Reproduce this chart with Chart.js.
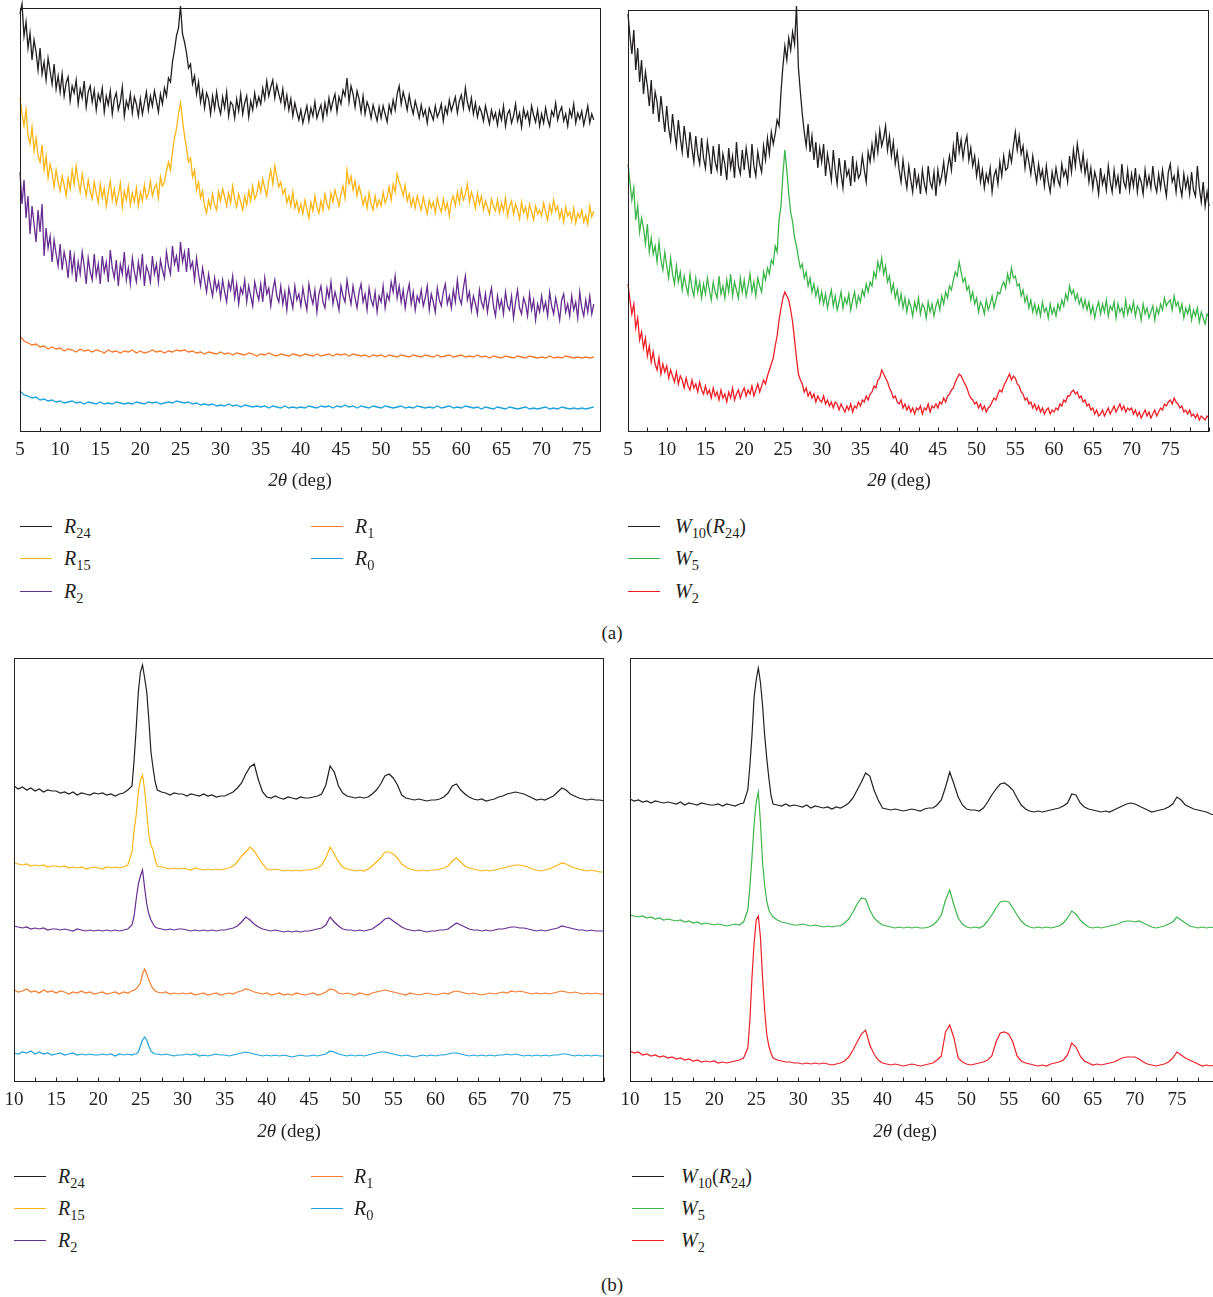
<!DOCTYPE html>
<html lang="en">
<head>
<meta charset="UTF-8">
<title>XRD patterns (a) and (b)</title>
<script src="https://cdn.jsdelivr.net/npm/chart.js"></script>
<style>
  html, body { margin: 0; padding: 0; background: #fff; overflow: hidden; }
  body { width: 1213px; height: 1297px; position: relative; font-family: "Liberation Serif", "DejaVu Serif", serif; color: #231f20; }
  canvas { position: absolute; }
  .axis-title { position: absolute; font-size: 19px; line-height: 20px; transform: translateX(-50%); white-space: nowrap; }
  .swatch { position: absolute; width: 32px; height: 0; border-top: 1.5px solid; }
  .leg-label { position: absolute; font-size: 20px; line-height: 20px; white-space: nowrap; }
  .leg-label sub { font-size: 0.72em; vertical-align: -0.35em; line-height: 0; }
  .caption { position: absolute; font-size: 19px; line-height: 20px; transform: translateX(-50%); }
</style>
</head>
<body>
<canvas id="chartAL" width="601" height="474" style="left:10px;top:-2px"></canvas>
<canvas id="chartAR" width="601" height="472" style="left:618px;top:0px"></canvas>
<canvas id="chartBL" width="610" height="474" style="left:4px;top:648px"></canvas>
<canvas id="chartBR" width="609" height="474" style="left:620px;top:648px"></canvas>
<div id="overlay"></div>
<script>
// ---- data (a): noisy scans read every 0.25 deg, flat ones every 0.5 deg ----
const aStart = 5;
const aFineStep = 0.25;
const aCoarseStep = 0.5;

// left panel, 5 .. 76.5 deg
const r24a = [
  418, 428, 396, 410, 384, 399, 372, 392, 380, 362, 384, 358, 370, 352, 374, 361, 348, 368, 343, 356,
  340, 358, 336, 349, 355, 331, 346, 339, 352, 328, 343, 334, 351, 325, 340, 346, 330, 342, 322, 338,
  331, 344, 320, 336, 327, 341, 318, 333, 339, 322, 330, 345, 316, 331, 324, 338, 319, 335, 328, 316,
  333, 318, 329, 340, 322, 336, 326, 341, 331, 320, 338, 328, 344, 336, 354, 350, 370, 382, 396, 404,
  426, 398, 390, 379, 364, 368, 348, 356, 338, 350, 330, 341, 324, 339, 333, 318, 336, 323, 340, 326,
  318, 335, 324, 340, 316, 330, 327, 314, 333, 321, 338, 318, 329, 336, 315, 331, 322, 339, 326, 335,
  328, 344, 333, 351, 336, 345, 352, 334, 347, 338, 330, 343, 325, 337, 322, 333, 316, 329, 320, 312,
  322, 309, 318, 326, 311, 324, 316, 330, 314, 321, 327, 313, 329, 318, 334, 322, 331, 338, 320, 335,
  328, 342, 336, 354, 330, 346, 338, 325, 341, 333, 320, 336, 318, 330, 324, 314, 327, 319, 311, 325,
  314, 326, 318, 310, 327, 319, 332, 322, 338, 346, 328, 340, 332, 322, 337, 326, 318, 331, 323, 314,
  327, 316, 322, 309, 324, 318, 312, 326, 315, 320, 328, 311, 325, 318, 332, 321, 328, 335, 319, 331,
  337, 324, 344, 330, 322, 334, 318, 329, 315, 325, 320, 311, 326, 317, 308, 322, 313, 319, 307, 321,
  312, 326, 306, 318, 322, 309, 316, 328, 311, 319, 305, 323, 314, 320, 308, 326, 317, 310, 322, 306,
  318, 309, 324, 313, 306, 321, 316, 329, 312, 320, 325, 311, 318, 306, 322, 315, 328, 309, 319, 313,
  321, 307, 316, 326, 309, 318, 312
];
const r15a = [
  334, 318, 306, 322, 296, 288, 305, 281, 294, 276, 270, 287, 262, 276, 254, 268, 259, 245, 262, 250,
  241, 256, 247, 236, 254, 243, 262, 248, 266, 251, 240, 258, 246, 236, 252, 241, 233, 250, 239, 229,
  248, 234, 244, 226, 240, 251, 232, 243, 228, 237, 249, 225, 241, 232, 246, 227, 239, 230, 244, 226,
  240, 231, 247, 234, 238, 251, 236, 244, 248, 234, 255, 246, 250, 261, 270, 262, 280, 294, 303, 318,
  329, 312, 296, 284, 270, 274, 255, 262, 242, 250, 234, 241, 226, 219, 232, 224, 238, 227, 222, 240,
  231, 243, 235, 226, 239, 229, 246, 233, 225, 238, 230, 222, 236, 227, 241, 231, 246, 233, 238, 250,
  240, 253, 244, 236, 252, 262, 248, 266, 255, 245, 250, 238, 243, 229, 236, 226, 240, 224, 231, 220,
  228, 218, 232, 223, 214, 230, 221, 236, 225, 219, 231, 222, 238, 228, 223, 239, 230, 242, 234, 226,
  238, 246, 234, 262, 248, 256, 242, 251, 236, 246, 238, 227, 235, 224, 239, 228, 222, 236, 225, 232,
  226, 240, 229, 235, 245, 232, 248, 240, 258, 250, 244, 236, 247, 231, 238, 226, 234, 224, 236, 228,
  222, 235, 226, 218, 232, 224, 230, 219, 234, 225, 220, 233, 222, 229, 216, 231, 236, 226, 240, 229,
  243, 232, 238, 248, 230, 240, 233, 224, 239, 228, 236, 222, 231, 225, 218, 233, 226, 221, 232, 219,
  229, 221, 234, 216, 226, 231, 218, 228, 222, 213, 230, 219, 225, 214, 228, 220, 212, 226, 218, 222,
  216, 229, 220, 212, 227, 219, 232, 221, 226, 214, 222, 210, 225, 216, 220, 211, 224, 209, 219, 214,
  222, 210, 217, 208, 226, 215, 221
];
const r2a = [
  260, 228, 252, 214, 236, 198, 226, 208, 190, 222, 200, 228, 176, 204, 184, 196, 170, 192, 178, 166,
  188, 162, 180, 170, 154, 182, 160, 176, 150, 170, 158, 180, 166, 148, 174, 160, 152, 178, 156, 168,
  148, 176, 160, 170, 150, 182, 164, 154, 172, 146, 168, 158, 180, 152, 164, 148, 174, 160, 150, 170,
  156, 178, 146, 166, 160, 150, 176, 158, 168, 150, 172, 162, 154, 180, 166, 158, 186, 168, 176, 160,
  190, 170, 180, 160, 184, 164, 170, 152, 174, 158, 146, 164, 152, 140, 158, 146, 136, 154, 142, 150,
  134, 152, 140, 130, 150, 142, 156, 134, 148, 128, 144, 138, 152, 130, 146, 136, 126, 150, 140, 132,
  148, 130, 154, 138, 144, 126, 142, 152, 136, 130, 146, 128, 140, 122, 144, 134, 124, 146, 132, 138,
  126, 144, 132, 122, 148, 136, 128, 142, 120, 138, 146, 130, 124, 144, 134, 150, 128, 140, 132, 122,
  146, 136, 130, 152, 138, 128, 146, 134, 124, 140, 148, 130, 138, 122, 144, 132, 126, 140, 120, 136,
  130, 146, 124, 138, 132, 150, 140, 156, 134, 146, 130, 142, 124, 138, 148, 128, 140, 122, 136, 130,
  142, 126, 134, 146, 122, 138, 130, 120, 144, 132, 126, 140, 148, 128, 136, 124, 142, 130, 152, 134,
  128, 144, 156, 132, 140, 122, 136, 128, 118, 142, 130, 124, 138, 120, 134, 144, 126, 116, 136, 124,
  132, 118, 140, 126, 122, 136, 114, 130, 142, 124, 118, 134, 128, 116, 138, 122, 132, 112, 128, 120,
  136, 122, 130, 116, 140, 126, 118, 134, 124, 112, 132, 138, 120, 128, 116, 136, 122, 130, 114, 140,
  124, 116, 132, 120, 136, 118, 128
];
const r1a = [
  96, 91, 89, 87, 88, 85, 86, 83, 85, 83,
  84, 81, 83, 82, 80, 83, 81, 82, 80, 82,
  81, 79, 82, 80, 81, 79, 81, 80, 82, 79,
  81, 79, 80, 82, 80, 81, 79, 81, 80, 82,
  81, 82, 80, 81, 79, 80, 78, 80, 79, 78,
  80, 78, 79, 77, 79, 78, 77, 79, 78, 76,
  78, 77, 79, 77, 76, 78, 77, 76, 78, 77,
  76, 78, 77, 76, 78, 76, 77, 78, 76, 78,
  77, 78, 76, 78, 77, 76, 77, 75, 77, 76,
  77, 75, 77, 76, 75, 77, 76, 75, 77, 76,
  75, 77, 76, 75, 77, 75, 76, 77, 75, 76,
  77, 75, 76, 75, 77, 75, 76, 74, 76, 75,
  74, 76, 75, 74, 76, 75, 74, 76, 75, 74,
  75, 74, 76, 74, 75, 74, 76, 75, 74, 75,
  74, 75, 74, 75
];
const r0a = [
  41, 37, 36, 34, 35, 32, 33, 31, 32, 30,
  31, 29, 30, 31, 29, 30, 28, 30, 29, 28,
  30, 28, 29, 28, 30, 29, 28, 29, 28, 30,
  29, 28, 30, 29, 30, 28, 29, 30, 29, 31,
  30, 29, 30, 28, 29, 27, 28, 27, 28, 26,
  27, 26, 28, 26, 27, 25, 27, 26, 25, 26,
  25, 26, 24, 26, 25, 24, 26, 24, 25, 24,
  25, 24, 26, 25, 24, 26, 25, 26, 24, 26,
  25, 27, 25, 26, 24, 26, 25, 24, 26, 25,
  24, 26, 25, 24, 25, 26, 24, 25, 24, 26,
  25, 24, 25, 24, 26, 24, 25, 26, 24, 25,
  24, 26, 25, 24, 25, 23, 25, 24, 23, 25,
  24, 23, 25, 24, 23, 24, 25, 23, 24, 23,
  24, 25, 23, 24, 23, 25, 24, 23, 24, 23,
  24, 23, 24, 25
];

// right panel, 5 .. 80 deg
const w10a = [
  418, 396, 378, 402, 362, 384, 350, 372, 338, 360, 346, 326, 352, 318, 340, 330, 310, 336, 318, 300,
  326, 304, 292, 318, 300, 286, 312, 294, 280, 306, 290, 274, 300, 284, 270, 296, 278, 268, 294, 274,
  264, 290, 276, 258, 286, 270, 262, 288, 256, 278, 268, 252, 284, 264, 276, 254, 290, 266, 258, 282,
  262, 284, 270, 254, 288, 266, 256, 280, 268, 260, 286, 272, 294, 278, 300, 288, 298, 312, 306, 340,
  366, 386, 372, 394, 382, 400, 388, 426, 364, 340, 318, 300, 286, 308, 280, 296, 272, 290, 264, 284,
  270, 288, 256, 278, 266, 252, 282, 262, 248, 274, 258, 244, 272, 256, 262, 246, 276, 250, 268, 254,
  258, 276, 262, 250, 280, 270, 288, 274, 296, 280, 302, 286, 294, 306, 282, 296, 276, 290, 268, 280,
  262, 250, 272, 256, 244, 266, 252, 240, 264, 246, 256, 238, 262, 248, 240, 266, 250, 244, 260, 236,
  262, 248, 256, 270, 250, 264, 276, 262, 286, 270, 300, 280, 292, 274, 288, 296, 272, 284, 266, 276,
  256, 270, 250, 262, 244, 258, 250, 264, 240, 256, 262, 248, 270, 256, 276, 262, 264, 280, 270, 286,
  300, 282, 296, 278, 286, 264, 280, 270, 258, 276, 262, 250, 268, 254, 262, 246, 266, 250, 240, 260,
  248, 264, 252, 246, 268, 256, 262, 250, 276, 260, 282, 266, 288, 274, 262, 278, 258, 270, 250, 264,
  244, 260, 252, 238, 264, 248, 256, 242, 266, 250, 240, 262, 246, 256, 238, 268, 250, 244, 262, 242,
  258, 246, 264, 240, 256, 250, 238, 262, 246, 256, 244, 266, 248, 240, 258, 244, 262, 248, 236, 260,
  268, 250, 256, 240, 262, 246, 236, 258, 244, 254, 238, 260, 242, 236, 266, 244, 230, 250, 226, 240,
  226
];
const w5a = [
  268, 250, 232, 244, 212, 226, 200, 214, 204, 188, 208, 180, 194, 178, 186, 170, 190, 172, 162, 180,
  166, 154, 174, 158, 148, 166, 150, 160, 142, 156, 146, 138, 158, 144, 136, 154, 140, 150, 134, 148,
  138, 154, 142, 132, 150, 140, 134, 156, 138, 146, 134, 152, 140, 158, 136, 150, 142, 134, 154, 140,
  152, 136, 146, 158, 140, 150, 136, 154, 146, 140, 160, 152, 164, 158, 172, 168, 186, 180, 212, 226,
  258, 282, 262, 238, 220, 210, 194, 186, 174, 164, 168, 154, 160, 146, 154, 140, 148, 136, 144, 130,
  140, 128, 138, 124, 134, 142, 126, 136, 122, 130, 140, 124, 134, 128, 138, 122, 132, 140, 126, 136,
  130, 142, 136, 148, 140, 150, 146, 160, 154, 170, 162, 174, 158, 166, 150, 156, 140, 148, 134, 142,
  128, 138, 124, 134, 120, 132, 126, 116, 130, 122, 134, 118, 128, 124, 114, 130, 120, 128, 116, 126,
  132, 122, 136, 128, 140, 134, 146, 142, 152, 160, 156, 170, 160, 150, 154, 142, 146, 132, 140, 128,
  134, 120, 130, 126, 118, 132, 122, 128, 136, 124, 132, 140, 138, 146, 150, 144, 158, 150, 164, 154,
  156, 146, 148, 136, 142, 130, 136, 124, 132, 120, 128, 118, 126, 116, 130, 120, 124, 114, 128, 118,
  124, 116, 128, 122, 132, 126, 138, 132, 146, 138, 142, 132, 138, 128, 134, 124, 132, 122, 130, 118,
  126, 114, 124, 130, 118, 128, 120, 132, 116, 126, 122, 130, 114, 128, 120, 124, 116, 132, 118, 126,
  120, 130, 116, 126, 122, 112, 128, 118, 124, 114, 120, 126, 112, 124, 118, 128, 122, 134, 126, 130,
  132, 122, 136, 126, 130, 120, 128, 114, 124, 118, 126, 112, 122, 116, 124, 110, 120, 114, 108, 118,
  116
];
const w2a = [
  148, 132, 118, 128, 104, 114, 92, 100, 84, 94, 76, 86, 70, 80, 68, 62, 74, 58, 68, 60,
  66, 54, 62, 56, 50, 60, 48, 56, 52, 44, 54, 46, 42, 52, 44, 48, 40, 50, 42, 38,
  46, 38, 42, 34, 44, 36, 40, 32, 42, 34, 38, 30, 40, 34, 44, 32, 38, 42, 34, 40,
  44, 36, 42, 38, 46, 36, 42, 48, 40, 46, 52, 48, 56, 62, 68, 74, 86, 96, 112, 124,
  134, 140, 136, 132, 122, 110, 92, 74, 58, 52, 48, 40, 44, 36, 40, 34, 38, 30, 36, 32,
  30, 36, 28, 32, 26, 30, 24, 30, 28, 22, 28, 24, 20, 26, 22, 28, 20, 26, 24, 30,
  26, 32, 30, 36, 32, 38, 40, 46, 44, 52, 54, 62, 58, 54, 50, 44, 40, 34, 36, 30,
  28, 32, 24, 28, 22, 26, 20, 24, 18, 24, 22, 26, 18, 24, 22, 28, 20, 26, 24, 28,
  24, 30, 28, 34, 30, 36, 38, 42, 44, 50, 54, 58, 56, 52, 48, 44, 38, 34, 32, 28,
  30, 24, 28, 22, 26, 20, 24, 26, 30, 34, 32, 38, 42, 40, 46, 50, 54, 58, 52, 56,
  54, 48, 46, 40, 38, 32, 34, 28, 30, 24, 28, 22, 26, 20, 24, 18, 22, 24, 18, 22,
  20, 24, 22, 28, 26, 32, 30, 36, 36, 40, 42, 38, 40, 34, 36, 30, 32, 26, 28, 22,
  24, 18, 22, 16, 18, 22, 16, 20, 24, 18, 22, 26, 20, 24, 28, 22, 26, 20, 24, 22,
  24, 18, 22, 16, 20, 14, 18, 22, 16, 20, 14, 18, 22, 16, 20, 24, 22, 28, 26, 30,
  32, 28, 34, 30, 28, 24, 26, 20, 22, 18, 22, 16, 18, 14, 18, 12, 16, 14, 12, 16,
  14
];

// ---- data (b): finer sampling around the 25 deg reflection ----
const xB = [
  10, 10.5, 11, 11.5, 12, 12.5, 13, 13.5, 14, 14.5,
  15, 15.5, 16, 16.5, 17, 17.5, 18, 18.5, 19, 19.5,
  20, 20.5, 21, 21.5, 22, 22.5, 23, 23.5, 24,
  24.25, 24.5, 24.75, 25, 25.25, 25.5, 25.75, 26, 26.25, 26.5, 26.75, 27,
  27.5, 28, 28.5, 29, 29.5,
  30, 30.5, 31, 31.5, 32, 32.5, 33, 33.5, 34, 34.5,
  35, 35.5, 36, 36.5, 37, 37.5, 38, 38.5, 39, 39.5,
  40, 40.5, 41, 41.5, 42, 42.5, 43, 43.5, 44, 44.5,
  45, 45.5, 46, 46.5, 47, 47.5, 48, 48.5, 49, 49.5,
  50, 50.5, 51, 51.5, 52, 52.5, 53, 53.5, 54, 54.5,
  55, 55.5, 56, 56.5, 57, 57.5, 58, 58.5, 59, 59.5,
  60, 60.5, 61, 61.5, 62, 62.5, 63, 63.5, 64, 64.5,
  65, 65.5, 66, 66.5, 67, 67.5, 68, 68.5, 69, 69.5,
  70, 70.5, 71, 71.5, 72, 72.5, 73, 73.5, 74, 74.5,
  75, 75.5, 76, 76.5, 77, 77.5, 78, 78.5, 79, 79.5, 80
];
const r24b = [
  296, 293, 295, 292, 294, 291, 293, 290, 292, 291,
  291, 289, 290, 288, 290, 287, 289, 288, 287, 289,
  288, 289, 287, 288, 286, 288, 289, 292, 296,
  322, 354, 390, 410, 417, 404, 390, 362, 330, 314, 300, 292,
  290, 289, 287, 289, 288,
  288, 286, 288, 287, 286, 288, 286, 287, 285, 286,
  286, 288, 290, 294, 299, 308, 315, 318, 302, 290,
  285, 284, 286, 284, 283, 285, 284, 283, 285, 284,
  284, 285, 286, 288, 297, 316, 310, 296, 289, 286,
  285, 284, 285, 284, 285, 288, 292, 298, 306, 308,
  304, 297, 287, 284, 283, 282, 283, 282, 281, 282,
  282, 283, 285, 289, 296, 298, 292, 288, 285, 283,
  282, 283, 281, 282, 283, 285, 286, 288, 289, 290,
  289, 288, 286, 284, 282, 283, 282, 284, 286, 290,
  294, 292, 288, 286, 284, 283, 282, 283, 282, 282, 281
];
const r15b = [
  219, 218, 217, 218, 216, 217, 216, 217, 215, 216,
  216, 215, 216, 214, 215, 214, 215, 213, 214, 215,
  214, 213, 215, 214, 215, 214, 215, 217, 230,
  252, 267, 290, 302, 307, 292, 270, 247, 237, 232, 222, 216,
  215, 214, 213, 214, 213,
  214, 213, 212, 214, 213, 212, 213, 212, 213, 212,
  213, 214, 216, 220, 226, 230, 235, 231, 224, 218,
  213, 212, 213, 212, 211, 212, 211, 212, 211, 212,
  212, 213, 214, 217, 224, 235, 228, 220, 215, 213,
  212, 211, 212, 211, 213, 216, 220, 224, 230, 230,
  228, 224, 218, 215, 213, 212, 211, 212, 211, 212,
  212, 213, 214, 216, 221, 224, 220, 216, 214, 213,
  212, 211, 212, 211, 212, 213, 214, 215, 216, 217,
  217, 216, 215, 213, 212, 211, 212, 213, 215, 217,
  219, 218, 216, 214, 213, 212, 211, 212, 211, 210, 210
];
const r2b = [
  156, 155, 154, 155, 153, 154, 153, 154, 152, 153,
  153, 152, 153, 152, 151, 153, 152, 151, 152, 151,
  152, 151, 152, 151, 152, 151, 152, 153, 157,
  166, 183, 198, 206, 212, 194, 178, 168, 162, 158, 155, 154,
  153, 152, 153, 152, 153,
  153, 152, 151, 152, 151, 152, 151, 152, 151, 152,
  152, 153, 154, 156, 160, 165, 162, 158, 155, 153,
  152, 151, 152, 151, 150, 151, 150, 151, 150, 151,
  151, 152, 153, 154, 157, 165, 160, 156, 153, 152,
  152, 151, 152, 151, 152, 153, 156, 159, 163, 164,
  161, 158, 155, 153, 152, 151, 152, 151, 150, 151,
  151, 152, 152, 153, 156, 159, 157, 155, 153, 152,
  152, 151, 152, 151, 152, 153, 153, 154, 155, 155,
  154, 154, 153, 152, 151, 152, 151, 152, 153, 154,
  156, 155, 154, 153, 152, 152, 151, 152, 151, 151, 151
];
const r1b = [
  92, 90, 91, 93, 90, 91, 89, 92, 90, 91,
  89, 91, 90, 88, 90, 89, 91, 89, 90, 88,
  89, 90, 88, 89, 90, 88, 90, 89, 91,
  92, 93, 96, 99, 108, 113, 108, 102, 97, 93, 91, 90,
  89, 90, 88, 89, 88,
  89, 88, 89, 87, 88, 89, 87, 88, 89, 87,
  88, 89, 88, 90, 91, 93, 92, 90, 89, 88,
  89, 87, 88, 89, 87, 88, 87, 89, 88, 87,
  88, 89, 87, 88, 90, 93, 92, 89, 88, 89,
  88, 87, 89, 88, 87, 89, 90, 91, 92, 91,
  90, 89, 88, 87, 89, 88, 87, 88, 89, 88,
  87, 88, 89, 88, 90, 91, 90, 89, 88, 89,
  88, 87, 88, 89, 88, 89, 90, 89, 91, 90,
  91, 90, 89, 88, 89, 88, 89, 88, 89, 90,
  91, 90, 89, 90, 89, 88, 89, 88, 89, 88, 88
];
const r0b = [
  29, 28, 30, 29, 31, 28, 30, 28, 29, 27,
  28, 29, 27, 28, 29, 27, 28, 27, 28, 27,
  27, 28, 27, 28, 26, 28, 27, 28, 27,
  28, 28, 30, 36, 42, 45, 42, 36, 31, 29, 28, 28,
  27, 28, 27, 26, 27,
  27, 28, 27, 28, 26, 27, 26, 27, 28, 27,
  27, 26, 27, 28, 29, 30, 29, 28, 27, 26,
  27, 26, 27, 26, 27, 26, 25, 26, 27, 26,
  26, 27, 26, 27, 28, 31, 30, 28, 27, 26,
  27, 26, 27, 26, 27, 28, 29, 30, 30, 29,
  28, 27, 26, 27, 26, 25, 26, 27, 26, 27,
  26, 27, 27, 28, 29, 29, 28, 27, 26, 27,
  26, 27, 26, 27, 26, 27, 27, 28, 27, 28,
  27, 26, 27, 26, 27, 26, 27, 26, 27, 27,
  28, 28, 27, 26, 27, 26, 27, 26, 27, 26, 26
];
const w10b = [
  283, 281, 282, 280, 281, 279, 281, 280, 279, 280,
  279, 278, 280, 277, 279, 278, 277, 279, 278, 277,
  277, 278, 276, 278, 277, 276, 278, 279, 292,
  317, 347, 385, 402, 414, 400, 377, 347, 324, 304, 287, 278,
  277, 276, 278, 276, 277,
  276, 275, 277, 274, 276, 275, 274, 275, 273, 275,
  274, 276, 279, 284, 292, 300, 309, 306, 292, 282,
  274, 273, 272, 273, 272, 271, 272, 273, 272, 271,
  273, 274, 274, 277, 282, 295, 310, 298, 285, 277,
  273, 272, 272, 271, 274, 280, 287, 293, 298, 299,
  296, 292, 284, 277, 273, 271, 270, 271, 270, 271,
  272, 273, 274, 276, 279, 288, 287, 279, 275, 273,
  272, 271, 270, 271, 270, 272, 274, 276, 278, 279,
  278, 276, 274, 272, 270, 271, 272, 273, 275, 278,
  285, 282, 277, 275, 273, 272, 271, 270, 268, 267, 267
];
const w5b = [
  167, 166, 165, 166, 164, 165, 163, 164, 162, 163,
  162, 161, 162, 160, 161, 159, 160, 158, 159, 158,
  157, 158, 157, 156, 157, 158, 157, 160, 172,
  195, 225, 258, 280, 290, 260, 220, 197, 181, 172, 168, 165,
  162, 160, 159, 158, 157,
  157, 158, 157, 156, 157, 156, 155, 156, 155, 156,
  156, 159, 163, 170, 178, 184, 183, 172, 164, 160,
  157, 156, 155, 154, 155, 154, 155, 154, 155, 154,
  154, 155, 157, 161, 167, 182, 192, 177, 164, 158,
  155, 154, 155, 154, 156, 161, 167, 174, 180, 181,
  180, 174, 167, 161, 157, 155, 154, 155, 154, 155,
  154, 155, 156, 159, 164, 171, 168, 162, 158, 155,
  154, 155, 154, 155, 156, 157, 158, 160, 161, 161,
  160, 161, 159, 157, 155, 154, 155, 156, 158, 160,
  165, 162, 159, 156, 155, 154, 155, 154, 155, 154, 154
];
const w2b = [
  31, 29, 30, 27, 28, 26, 27, 25, 26, 24,
  25, 23, 24, 22, 23, 21, 22, 20, 21, 20,
  21, 19, 20, 19, 20, 21, 22, 24, 34,
  62, 105, 139, 162, 166, 145, 105, 72, 48, 36, 29, 24,
  22, 21, 20, 20, 19,
  19, 18, 19, 18, 19, 18, 19, 18, 17, 18,
  19, 21, 25, 32, 40, 48, 52, 37, 28, 22,
  19, 18, 17, 18, 17, 16, 17, 18, 17, 16,
  17, 18, 19, 22, 26, 50, 57, 44, 24, 20,
  18, 17, 18, 19, 20, 22, 26, 40, 49, 50,
  48, 40, 26, 21, 19, 18, 17, 16, 17, 16,
  18, 19, 20, 22, 27, 39, 35, 26, 21, 19,
  17, 18, 17, 18, 19, 20, 22, 24, 25, 25,
  25, 23, 20, 18, 17, 16, 17, 18, 20, 24,
  30, 27, 24, 22, 20, 18, 16, 17, 16, 17, 17
];

// ---- series names and colours ----
const seriesColors = {
  R24: '#231f20', R15: '#fdb515', R2: '#662d91', R1: '#f47b2f', R0: '#1fa2dc',
  W10: '#231f20', W5: '#3cb54a', W2: '#ed2027'
};
const seriesLabels = {
  R24: '<i>R</i><sub>24</sub>', R15: '<i>R</i><sub>15</sub>', R2: '<i>R</i><sub>2</sub>',
  R1: '<i>R</i><sub>1</sub>', R0: '<i>R</i><sub>0</sub>',
  W10: '<i>W</i><sub>10</sub>(<i>R</i><sub>24</sub>)', W5: '<i>W</i><sub>5</sub>', W2: '<i>W</i><sub>2</sub>'
};

// sampling positions of an evenly stepped scan
function scanX(start, step, n) {
  const xs = [];
  for (let i = 0; i < n; i++) xs.push(start + i * step);
  return xs;
}
function points(xs, ys) {
  return ys.map((y, i) => ({ x: xs[i], y: y })).filter(p => p.x !== undefined);
}

// frame + inward tick marks, drawn from the x scale
const framePlugin = {
  id: 'frame',
  afterDatasetsDraw(chart) {
    const { ctx, chartArea: a, scales: { x } } = chart;
    const l = Math.round(a.left) + 0.5, t = Math.round(a.top) + 0.5;
    const r = Math.round(a.right) - 0.5, b = Math.round(a.bottom) - 0.5;
    ctx.save();
    ctx.strokeStyle = '#231f20';
    ctx.lineWidth = 1;
    ctx.strokeRect(l, t, r - l, b - t);
    ctx.beginPath();
    x.ticks.forEach(tk => {
      const q = tk.value / 2.5;
      if (Math.abs(q - Math.round(q)) > 1e-6) return;
      const px = Math.round(x.getPixelForValue(tk.value)) + 0.5;
      ctx.moveTo(px, b);
      ctx.lineTo(px, b - 4);
    });
    ctx.stroke();
    ctx.restore();
  }
};

function makeChart(id, sets, xMin, xMax, yMax, lineWidth) {
  return new Chart(document.getElementById(id), {
    type: 'line',
    data: {
      datasets: sets.map(s => ({
        label: s.key,
        data: points(s.xs, s.ys),
        borderColor: seriesColors[s.key],
        borderWidth: lineWidth,
        pointRadius: 0,
        tension: 0,
        fill: false,
        clip: false
      }))
    },
    options: {
      responsive: false,
      animation: false,
      devicePixelRatio: 1,
      layout: { padding: { left: 10, right: 10, top: 10, bottom: 0 } },
      plugins: { legend: { display: false }, tooltip: { enabled: false } },
      scales: {
        x: {
          type: 'linear',
          min: xMin,
          max: xMax,
          afterFit: scale => {
            // fixed axis band, no extra side room for edge labels
            scale.height = 40;
            scale.paddingLeft = 0;
            scale.paddingRight = 0;
          },
          grid: { display: false, drawTicks: false },
          border: { display: false },
          ticks: {
            stepSize: 2.5,
            includeBounds: false,
            autoSkip: false,
            maxRotation: 0,
            padding: 7,
            color: '#231f20',
            font: { family: 'Liberation Serif', size: 19 },
            callback: v => (v % 5 === 0 && v < xMax - 0.01) ? String(v) : ''
          }
        },
        y: { display: false, min: 0, max: yMax }
      }
    },
    plugins: [framePlugin]
  });
}

const xALfine = scanX(aStart, aFineStep, r24a.length);
const xALcoarse = scanX(aStart, aCoarseStep, r1a.length);
const xARfine = scanX(aStart, aFineStep, w10a.length);

makeChart('chartAL', [
  { key: 'R0', xs: xALcoarse, ys: r0a }, { key: 'R1', xs: xALcoarse, ys: r1a },
  { key: 'R2', xs: xALfine, ys: r2a }, { key: 'R15', xs: xALfine, ys: r15a },
  { key: 'R24', xs: xALfine, ys: r24a }
], 5, 77.4, 424, 1.3);

makeChart('chartAR', [
  { key: 'W2', xs: xARfine, ys: w2a }, { key: 'W5', xs: xARfine, ys: w5a },
  { key: 'W10', xs: xARfine, ys: w10a }
], 5, 80, 422, 1.3);

makeChart('chartBL', [
  { key: 'R0', xs: xB, ys: r0b }, { key: 'R1', xs: xB, ys: r1b }, { key: 'R2', xs: xB, ys: r2b },
  { key: 'R15', xs: xB, ys: r15b }, { key: 'R24', xs: xB, ys: r24b }
], 10, 80, 424, 1.2);

makeChart('chartBR', [
  { key: 'W2', xs: xB, ys: w2b }, { key: 'W5', xs: xB, ys: w5b }, { key: 'W10', xs: xB, ys: w10b }
], 10, 80, 424, 1.2);

// ---- axis titles, legends, captions ----
const overlay = document.getElementById('overlay');
function addDiv(cls, html, left, top) {
  const d = document.createElement('div');
  d.className = cls;
  d.innerHTML = html;
  d.style.left = left + 'px';
  d.style.top = top + 'px';
  overlay.appendChild(d);
  return d;
}
[[300, 470], [899, 470], [289, 1121], [905, 1121]].forEach(([cx, ty]) => {
  addDiv('axis-title', '<i>2θ</i> (deg)', cx, ty);
});

function addLegend(items, lineX, labelX, rows) {
  items.forEach((key, i) => {
    const sw = addDiv('swatch', '', lineX, rows[i]);
    sw.style.borderTopColor = seriesColors[key];
    addDiv('leg-label', seriesLabels[key], labelX, rows[i] - 10);
  });
}
const rowsA = [526, 558, 591];
const rowsB = [1176, 1208, 1240];
addLegend(['R24', 'R15', 'R2'], 20, 64, rowsA);
addLegend(['R1', 'R0'], 311, 355, rowsA);
addLegend(['W10', 'W5', 'W2'], 628, 675, rowsA);
addLegend(['R24', 'R15', 'R2'], 14, 58, rowsB);
addLegend(['R1', 'R0'], 311, 354, rowsB);
addLegend(['W10', 'W5', 'W2'], 632, 681, rowsB);

addDiv('caption', '(a)', 612, 623);
addDiv('caption', '(b)', 612, 1275);
</script>
</body>
</html>
